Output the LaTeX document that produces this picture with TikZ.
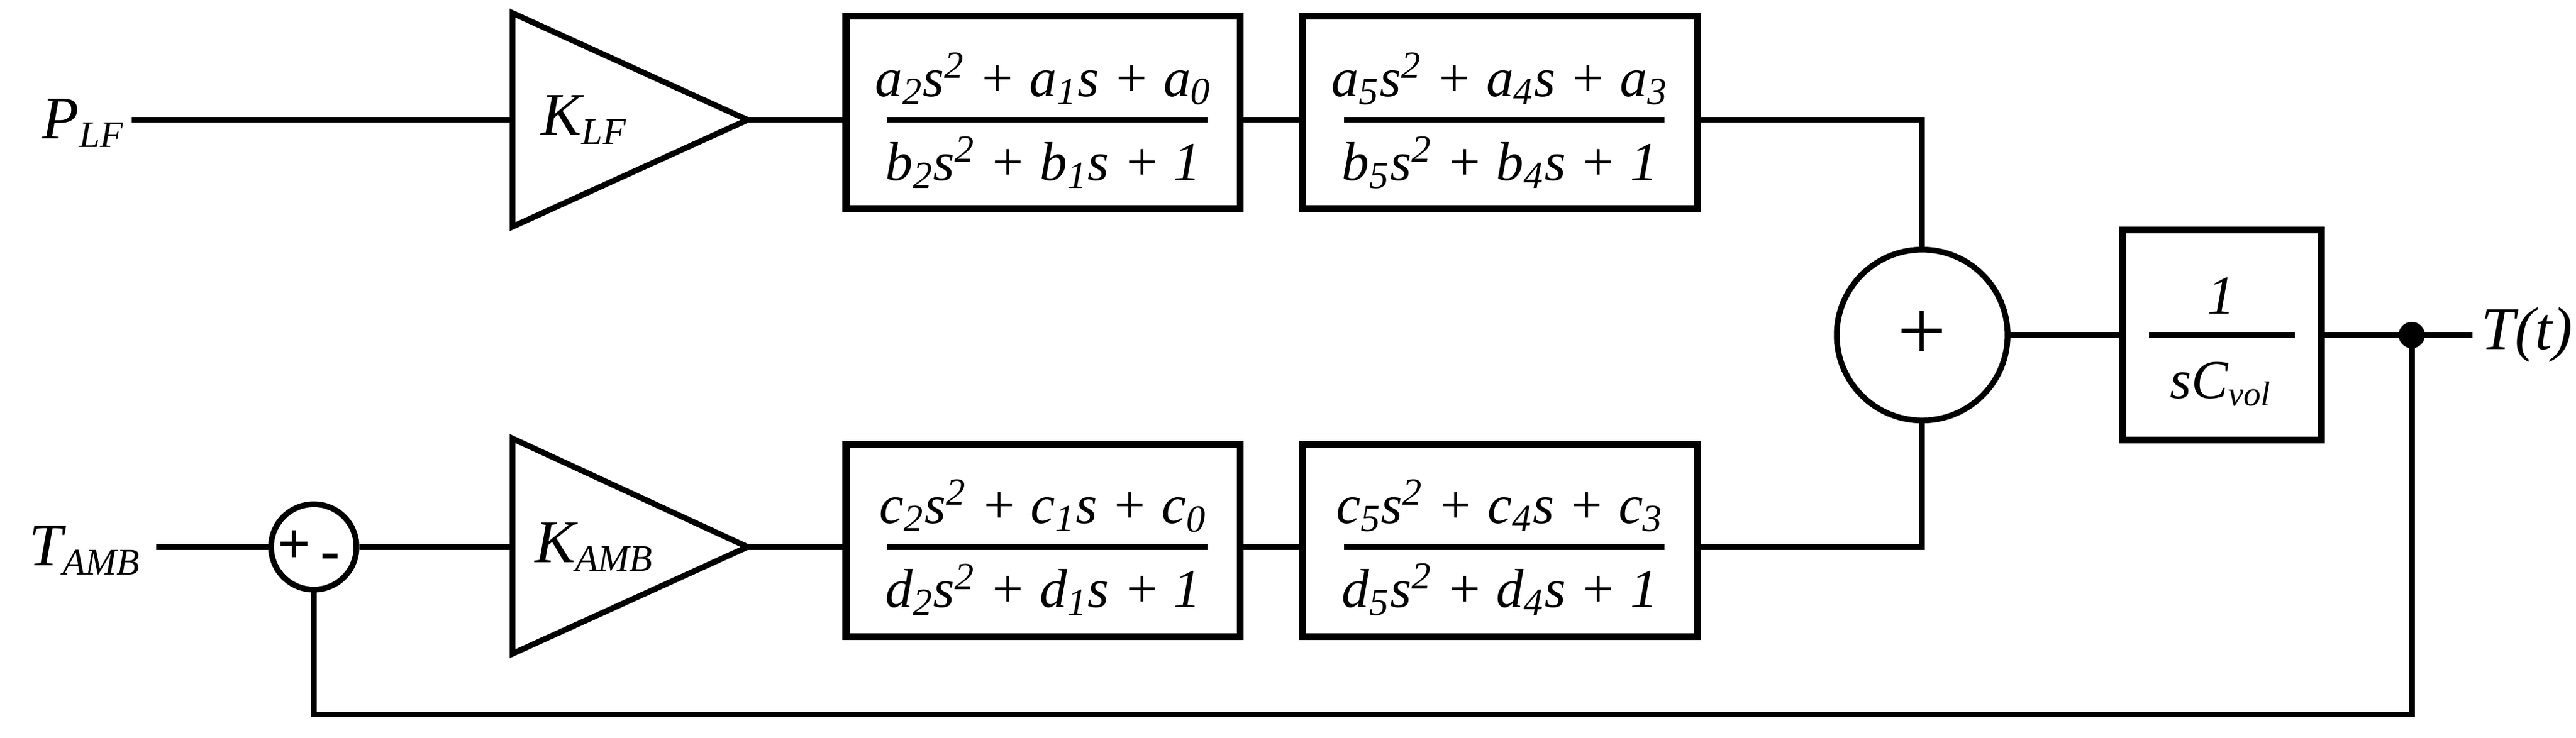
\documentclass[tikz,border=0pt]{standalone}
\usepackage{fontspec}
\setmainfont{Liberation Serif}
\begin{document}
\begin{tikzpicture}[x=0.02cm,y=-0.02cm,line width=2pt,
  blk/.style={draw,rectangle,line width=2.4pt,inner sep=0pt},
  lbl/.style={font=\fontsize{21}{25}\selectfont\itshape},
  frac/.style={font=\fontsize{19}{23}\selectfont\itshape}]
\useasboundingbox (0,0) rectangle (1568,449);
% top row
\node[lbl,anchor=west] (plf) at (18,75) {P\textsubscript{\fontsize{13}{15}\selectfont LF}};
\coordinate (pin) at (80,73);
\draw (312,8) -- (455,73) -- (312,138) -- cycle;
\coordinate (t1in) at (312,73); \coordinate (t1out) at (455,73);
\node[lbl,anchor=west] (klf) at (322,73) {K\textsubscript{\fontsize{13}{15}\selectfont LF}};
\node[blk,minimum width=240*0.02cm,minimum height=117*0.02cm] (b1) at (635,68.5) {};
\node[frac] at (635,48) {a\textsubscript{2}s\textsuperscript{2} + a\textsubscript{1}s + a\textsubscript{0}};
\node[frac] at (635,99) {b\textsubscript{2}s\textsuperscript{2} + b\textsubscript{1}s + 1};
\draw (540,73) -- (735,73);
\node[blk,minimum width=240*0.02cm,minimum height=117*0.02cm] (b2) at (913,68.5) {};
\node[frac] at (913,48) {a\textsubscript{5}s\textsuperscript{2} + a\textsubscript{4}s + a\textsubscript{3}};
\node[frac] at (913,99) {b\textsubscript{5}s\textsuperscript{2} + b\textsubscript{4}s + 1};
\draw (818,73) -- (1013,73);
% bottom row
\node[lbl,anchor=west] (tamb) at (10,335) {T\textsubscript{\fontsize{13}{15}\selectfont AMB}};
\coordinate (tin) at (95,333);
\node[draw,circle,minimum size=52*0.02cm,inner sep=0pt] (s1) at (191,333) {};
\node[font=\fontsize{20}{24}\selectfont\bfseries] at (179,333) {+};
\node[font=\fontsize{20}{24}\selectfont\bfseries] at (201,342) {-};
\draw (312,267) -- (455,333) -- (312,398) -- cycle;
\coordinate (t2in) at (312,333); \coordinate (t2out) at (455,333);
\node[lbl,anchor=west] (kamb) at (318,333) {K\textsubscript{\fontsize{13}{15}\selectfont AMB}};
\node[blk,minimum width=240*0.02cm,minimum height=117*0.02cm] (b4) at (635,329) {};
\node[frac] at (635,308) {c\textsubscript{2}s\textsuperscript{2} + c\textsubscript{1}s + c\textsubscript{0}};
\node[frac] at (635,359) {d\textsubscript{2}s\textsuperscript{2} + d\textsubscript{1}s + 1};
\draw (540,333) -- (735,333);
\node[blk,minimum width=240*0.02cm,minimum height=117*0.02cm] (b5) at (913,329) {};
\node[frac] at (913,308) {c\textsubscript{5}s\textsuperscript{2} + c\textsubscript{4}s + c\textsubscript{3}};
\node[frac] at (913,359) {d\textsubscript{5}s\textsuperscript{2} + d\textsubscript{4}s + 1};
\draw (818,333) -- (1013,333);
% sum and output
\node[draw,circle,minimum size=104*0.02cm,inner sep=0pt] (s2) at (1170,204) {};
\node[font=\fontsize{30}{34}\selectfont] at (1170,204) {+};
\node[blk,minimum width=121*0.02cm,minimum height=128*0.02cm] (b3) at (1352.5,204) {};
\node[frac] at (1352,180) {1};
\node[frac] at (1352,234) {sC\textsubscript{\fontsize{12}{14}\selectfont vol}};
\draw (1308,204) -- (1397,204);
\coordinate (dot) at (1468,204);
\coordinate (out) at (1505,204);
\node[lbl,anchor=west,inner sep=1pt] (tt) at (1507,204) {T(t)};
\fill (dot) circle (8*0.02cm);
% connectors
\draw (pin) -- (t1in);
\draw (t1out) -- (b1.west |- t1out);
\draw (b1.east |- 0,73) -- (b2.west |- 0,73);
\draw (b2.east |- 0,73) -| (s2.north);
\draw (tin) -- (s1.west);
\draw (s1.east) -- (t2in);
\draw (t2out) -- (b4.west |- 0,333);
\draw (b4.east |- 0,333) -- (b5.west |- 0,333);
\draw (b5.east |- 0,333) -| (s2.south);
\draw (s2.east) -- (b3.west);
\draw (b3.east) -- (out);
\draw (dot) -- (1468,435) -| (s1.south);
\end{tikzpicture}
\end{document}
